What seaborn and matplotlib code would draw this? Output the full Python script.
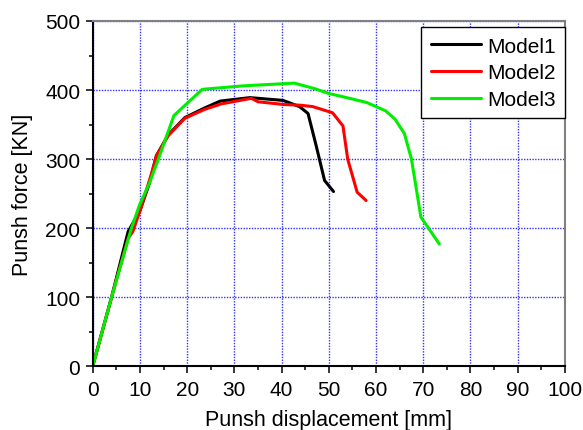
import matplotlib
matplotlib.use("Agg")
import matplotlib.pyplot as plt
from matplotlib.ticker import MultipleLocator
import pandas as pd
import seaborn as sns

# Punching-shear load-displacement curves
model1_x = [0, 4, 7.5, 10, 12, 13.5, 16, 19.5, 23.7, 27, 33.3, 40.3, 43.8, 45.6, 47.3, 49.1, 51.0]
model1_y = [0, 100, 195, 225, 265, 305, 335, 360, 374, 384, 389, 385, 376, 366, 320, 269, 253]

model2_x = [0, 4, 7.5, 8.5, 10, 11.5, 12.5, 13.5, 16, 19.5, 23.7, 27.3, 33.6, 35, 40.5, 44, 46.6, 50.8, 53, 54, 56, 57.9]
model2_y = [0, 100, 185, 195, 225, 258, 280, 305, 334, 359, 372, 380, 388, 383, 379, 378, 376, 367, 348, 300, 252, 240]

model3_x = [0, 4, 8.2, 10, 12, 13.9, 17.2, 23.2, 31.8, 42.7, 47, 50, 55, 58, 62, 64, 66, 67.5, 69.5, 73.4]
model3_y = [0, 100, 200, 235, 265, 300, 363, 401, 406, 410, 402, 395, 387, 382, 370, 358, 337, 300, 216, 177]

labels = ["Model1", "Model2", "Model3"]
colors = ["#000000", "#ff0000", "#00ee00"]

frames = []
for name, xs, ys in zip(labels, [model1_x, model2_x, model3_x], [model1_y, model2_y, model3_y]):
    frames.append(pd.DataFrame({"disp": xs, "force": ys, "Model": name}))
df = pd.concat(frames, ignore_index=True)

sns.set_style("white")
plt.rcParams["font.family"] = ["Liberation Sans", "DejaVu Sans"]
plt.rcParams["text.color"] = "black"
plt.rcParams["axes.labelcolor"] = "black"
plt.rcParams["xtick.color"] = "black"
plt.rcParams["ytick.color"] = "black"

fig = plt.figure(figsize=(5.83, 4.31), dpi=100)
ax = fig.add_axes([0.159, 0.148, 0.81, 0.801])

sns.lineplot(data=df, x="disp", y="force", hue="Model", palette=colors,
             sort=False, estimator=None, linewidth=2.2, ax=ax)

ax.set_xlim(0, 100)
ax.set_ylim(0, 500)
ax.xaxis.set_major_locator(MultipleLocator(10))
ax.xaxis.set_minor_locator(MultipleLocator(5))
ax.yaxis.set_major_locator(MultipleLocator(100))
ax.yaxis.set_minor_locator(MultipleLocator(50))

ax.grid(True, which="major", color="#0000ff", linestyle=(0, (1, 1)), linewidth=1.0, alpha=0.8)
ax.set_axisbelow(True)

ax.tick_params(which="major", direction="out", length=5, width=1.1, labelsize=15,
               colors="black", bottom=True, left=True, top=False, right=False)
ax.tick_params(axis="x", which="major", pad=5)
ax.tick_params(axis="y", which="major", pad=4)
ax.tick_params(which="minor", direction="out", length=3, width=1.1, color="black",
               bottom=True, left=True, top=False, right=False)

for side in ["left", "bottom"]:
    ax.spines[side].set_color("black")
    ax.spines[side].set_linewidth(1.5)
for side in ["top", "right"]:
    ax.spines[side].set_color("#808080")
    ax.spines[side].set_linewidth(1.5)

ax.set_xlabel("Punsh displacement [mm]", fontsize=15.5, labelpad=7, color="black")
ax.set_ylabel("Punsh force [KN]", fontsize=15.5, labelpad=9, color="black")

leg = ax.legend(loc="upper right", bbox_to_anchor=(1.0, 0.982), fontsize=15, frameon=True,
                fancybox=False, shadow=False, framealpha=1.0, handlelength=2.4,
                handletextpad=0.3, borderpad=0.45, labelspacing=0.37, borderaxespad=0.0)
leg.get_frame().set_edgecolor("black")
leg.get_frame().set_linewidth(1.0)
for text in leg.get_texts():
    text.set_color("black")
for line in leg.get_lines():
    line.set_linewidth(2.2)

fig.savefig("out.png", dpi=100)
